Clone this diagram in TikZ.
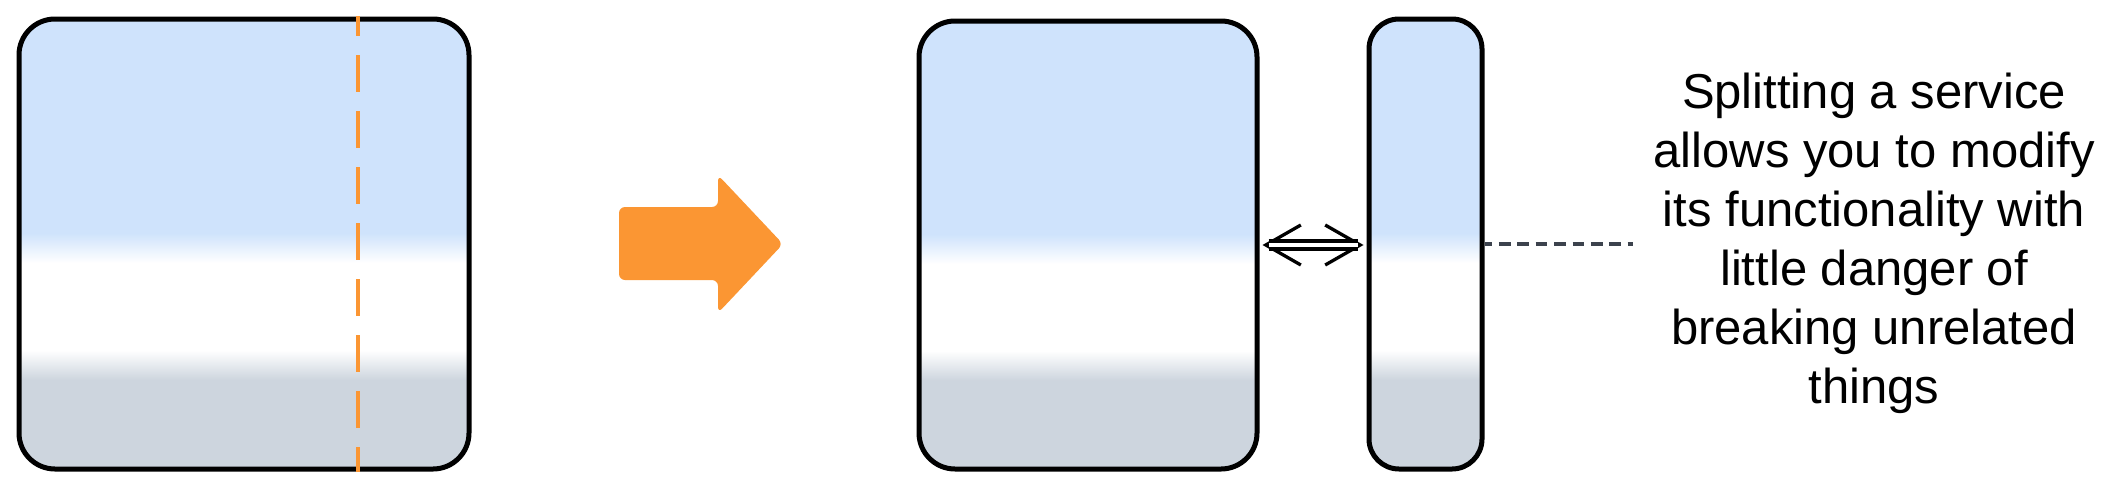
\documentclass[tikz,border=0pt]{standalone}
\usepackage{fontspec}
\setmainfont{Liberation Sans}
\usetikzlibrary{arrows.meta}
\usetikzlibrary{calc}
\definecolor{svcblue}{RGB}{207,227,252}
\definecolor{svcgrey}{RGB}{205,213,222}
\definecolor{splitorange}{RGB}{251,150,51}
\definecolor{notegrey}{RGB}{60,66,77}
\pgfdeclareverticalshading{svcshade}{100bp}{color(0bp)=(svcgrey);
  color(34.9bp)=(svcgrey); color(38.2bp)=(white); color(47.9bp)=(white);
  color(51.2bp)=(svcblue); color(100bp)=(svcblue)}
\newcommand{\svcrad}{36pt}
\newcommand{\svclw}{5pt}
\newcommand{\tiplen}{35pt}
\newcommand{\tipwd}{40pt}

\begin{document}
\begin{tikzpicture}[x=1pt,y=-1pt,
    svc/.style={rectangle,draw=black,line width=\svclw,shading=svcshade,
      rounded corners=\svcrad,inner sep=0pt},
    cutline/.style={splitorange,line width=4pt,
      dash pattern=on 37pt off 19pt,dash phase=17pt},
    linktips/.style={line width=3.3pt,line cap=round,
      arrows={Straight Barb[length=\tiplen,width=\tipwd]-Straight Barb[length=\tiplen,width=\tipwd]},
      shorten <=3pt,shorten >=3pt},
    linkshaft/.style={line width=3.3pt,double=white,double distance=4.5pt,
      shorten <=9pt,shorten >=9pt},
    notelink/.style={notegrey,line width=3.5pt,
      dash pattern=on 11.7pt off 6.7pt,dash phase=4pt},
    notetext/.style={align=center,inner sep=0pt,inner xsep=20pt,
      font=\fontsize{49}{59}\selectfont}]
  \useasboundingbox (0,0) rectangle (2124,480);

  % before
  \node (oldsvc) [svc,minimum width=450pt,minimum height=450pt] at (244,244) {};
  \draw[cutline] (358,16) -- (358,472);

  \fill[splitorange,rounded corners=6pt] (619,207) -- (718,207) -- (718,175)
    -- (783,244) -- (718,313) -- (718,280) -- (619,280) -- cycle;

  % after
  \node (bigsvc) [svc,minimum width=338pt,minimum height=448pt] at (1088,245) {};
  \node (smallsvc) [svc,rounded corners=30pt,minimum width=113pt,
    minimum height=450pt] at (1425.5,244) {};
  \draw[linktips] (bigsvc.east) -- (bigsvc.east -| smallsvc.west);
  \draw[linkshaft] (bigsvc.east) -- (bigsvc.east -| smallsvc.west);

  \node (note) [notetext] at (1874,243) {Splitting a service\\
    allows you to modify\\its functionality with\\little danger of\\
    breaking unrelated\\things};
  \draw[notelink] (smallsvc.east) -- (smallsvc.east -| note.west);
\end{tikzpicture}
\end{document}
